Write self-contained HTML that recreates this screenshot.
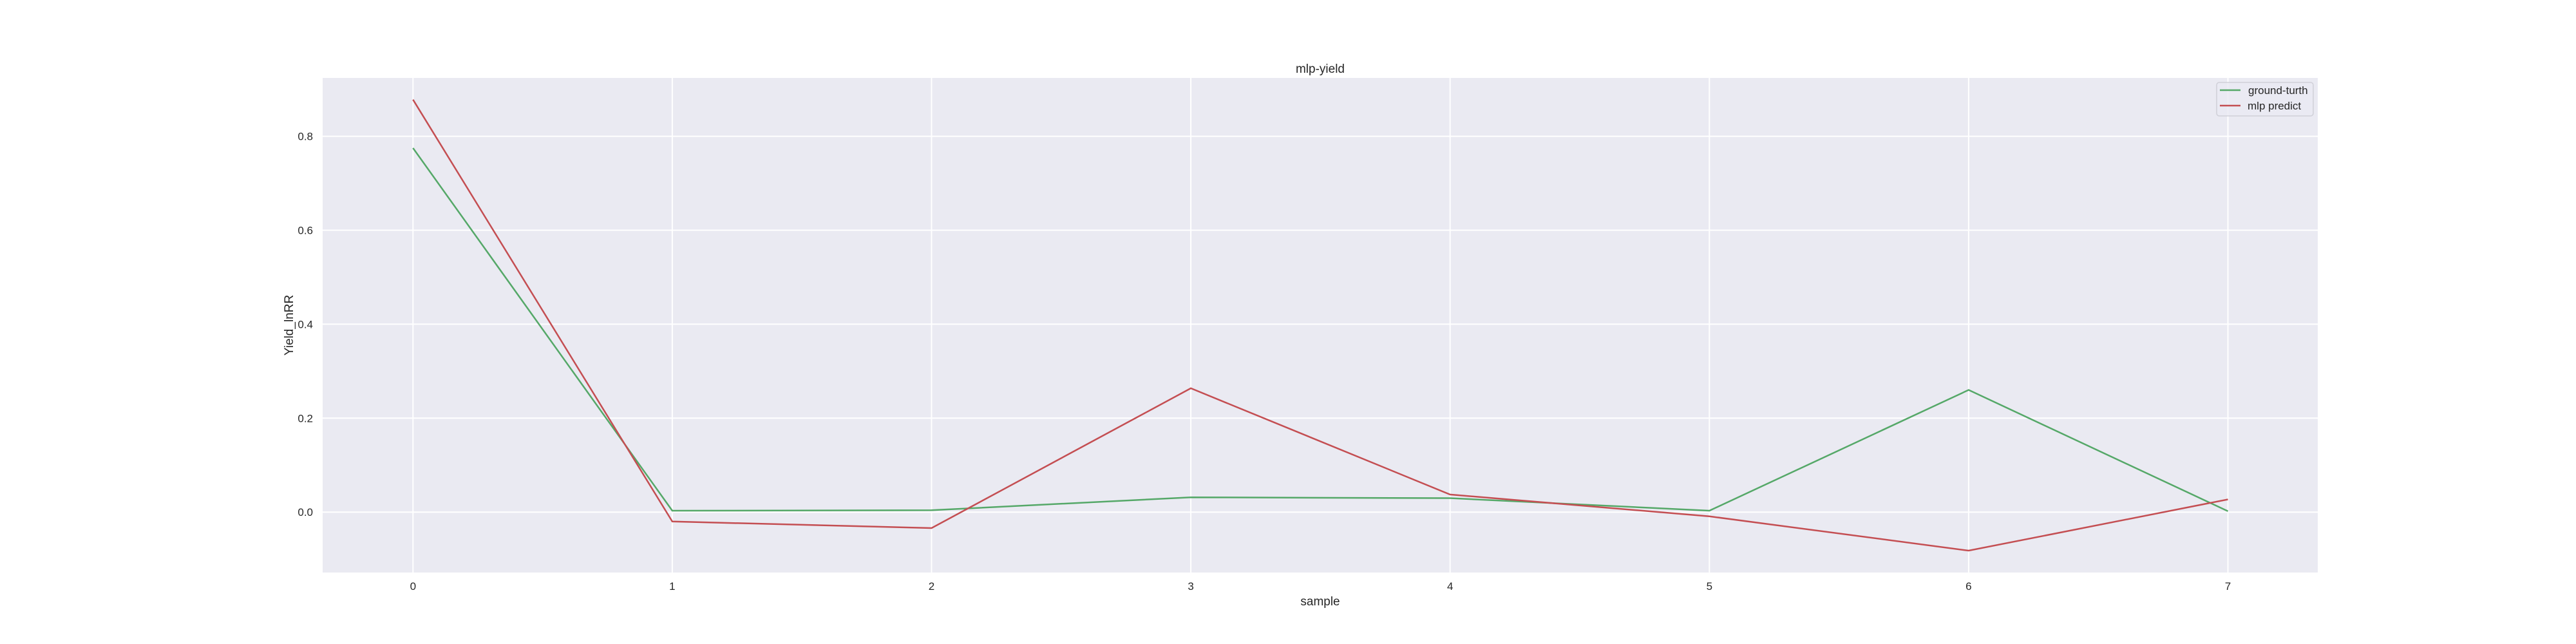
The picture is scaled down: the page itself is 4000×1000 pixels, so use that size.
<!DOCTYPE html>
<html><head><meta charset="utf-8"><style>
html,body{margin:0;padding:0;background:#fff;}
svg{display:block;font-family:"Liberation Sans",sans-serif;}
</style></head><body>
<svg id="chart" width="4000" height="1000" xmlns="http://www.w3.org/2000/svg">
<rect x="501" y="121" width="3098" height="768" fill="#eaeaf2"/>
<g id="grid"></g>
<g id="ticks"></g>
<g id="lines"></g>
<text x="2050" y="113" font-size="19" text-anchor="middle" fill="#262626">mlp-yield</text>
<text x="2050" y="940" font-size="19" text-anchor="middle" fill="#262626">sample</text>
<text transform="translate(455,505) rotate(-90)" font-size="19" text-anchor="middle" fill="#262626">Yield_lnRR</text>
<g>
<rect x="3442" y="128" width="150" height="52" rx="4" fill="#eaeaf2" stroke="#d0d0d8" stroke-width="1.5" fill-opacity="0.8"/>
<line x1="3447" y1="140" x2="3479" y2="140" stroke="#55a868" stroke-width="2.5"/>
<text x="3491" y="146" font-size="17" fill="#262626">ground-turth</text>
<line x1="3447" y1="164" x2="3479" y2="164" stroke="#c44e52" stroke-width="2.5"/>
<text x="3490" y="170" font-size="17" fill="#262626">mlp predict</text>
</g>
</svg>
<script>
const categories = [0,1,2,3,4,5,6,7];
const groundTruth = [0.775,0.003,0.004,0.0315,0.0297,0.003,0.260,0.002];
const mlpPredict = [0.878,-0.020,-0.034,0.2636,0.0374,-0.009,-0.082,0.027];
const yTicks = [0.0,0.2,0.4,0.6,0.8];
const yTickLabels = ["0.0","0.2","0.4","0.6","0.8"];
const xTickLabels = ["0","1","2","3","4","5","6","7"];

const NS = "http://www.w3.org/2000/svg";
const X0 = 641.3, XSTEP = 402.6;
const Y0 = 795.2, YPER = 729.5;
function xScale(v){ return X0 + v*XSTEP; }
function yScale(v){ return Y0 - v*YPER; }
function mk(tag, attrs){ const e=document.createElementNS(NS,tag); for(const k in attrs) e.setAttribute(k,attrs[k]); return e; }

const grid=document.getElementById('grid'), ticks=document.getElementById('ticks'), lines=document.getElementById('lines');
yTicks.forEach((t,i)=>{
  const y=yScale(t);
  const l=mk('line',{x1:501,x2:3599,y1:y,y2:y,stroke:'#fff','stroke-width':2});
  
  
  grid.appendChild(l);
  const tx=mk('text',{x:486,y:y+6,'font-size':17,'text-anchor':'end',fill:'#262626'});
  tx.textContent=yTickLabels[i];
  
  
  ticks.appendChild(tx);
});
categories.forEach((c,i)=>{
  const x=xScale(c);
  const l=mk('line',{x1:x,x2:x,y1:121,y2:889,stroke:'#fff','stroke-width':2});
  
  
  grid.appendChild(l);
  const tx=mk('text',{x:x,y:916,'font-size':17,'text-anchor':'middle',fill:'#262626'});
  tx.textContent=xTickLabels[i];
  
  
  ticks.appendChild(tx);
});
function pts(arr){ return arr.map((v,i)=>xScale(categories[i])+','+yScale(v)).join(' '); }
const g=mk('polyline',{points:pts(groundTruth),fill:'none',stroke:'#55a868','stroke-width':2.5});


lines.appendChild(g);
const r=mk('polyline',{points:pts(mlpPredict),fill:'none',stroke:'#c44e52','stroke-width':2.5});


lines.appendChild(r);
</script>
</body></html>
